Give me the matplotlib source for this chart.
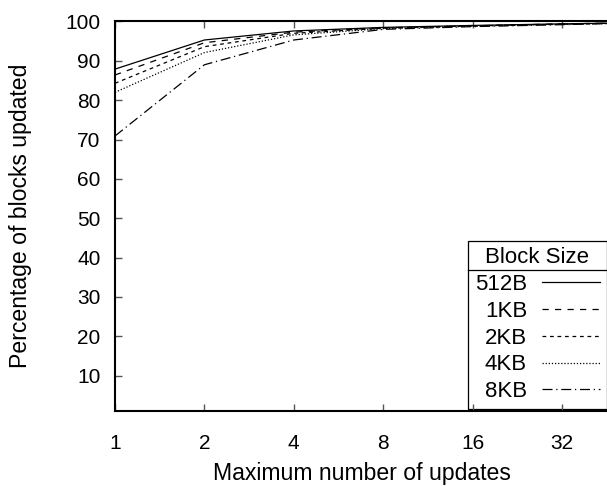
import matplotlib
matplotlib.use('Agg')
import matplotlib.pyplot as plt
from matplotlib.lines import Line2D

plt.rcParams['font.family'] = ['Liberation Sans', 'DejaVu Sans']

updates = [1, 2, 4, 8, 16, 32, 48]
labels = ['512B', '1KB', '2KB', '4KB', '8KB']
pct_512b = [87.9, 95.3, 97.6, 98.5, 99.0, 99.4, 99.6]
pct_1kb = [86.4, 94.6, 97.3, 98.4, 98.9, 99.4, 99.6]
pct_2kb = [84.3, 93.6, 97.0, 98.3, 98.9, 99.3, 99.6]
pct_4kb = [82.0, 92.1, 96.6, 98.2, 98.8, 99.3, 99.5]
pct_8kb = [70.9, 89.0, 95.3, 98.0, 98.7, 99.2, 99.5]
series = [pct_512b, pct_1kb, pct_2kb, pct_4kb, pct_8kb]
styles = ['-', (0, (5, 5)), (0, (3, 3)), (0, (1, 1.5)), (0, (8, 3, 1, 3))]

W, H = 607, 486
fig = plt.figure(figsize=(W / 100, H / 100), dpi=100)
ax = fig.add_axes([115 / W, (H - 411) / H, 1 - 115 / W + 0.003, 389.5 / H])

for vals, lab, ls in zip(series, labels, styles):
    ax.plot(updates, vals, color='black', linestyle=ls, linewidth=0.9, label=lab)

ax.set_xscale('log', base=2)
ax.set_xlim(1, 46)
ax.set_ylim(1, 100)
ax.set_xticks([1, 2, 4, 8, 16, 32])
ax.set_xticklabels(['1', '2', '4', '8', '16', '32'])
ax.minorticks_off()
ax.set_yticks(range(10, 101, 10))
ax.tick_params(direction='in', length=5, width=1, color='#555555',
               labelsize=15, top=True)
ax.tick_params(axis='x', pad=16.5)
ax.tick_params(axis='y', pad=10.5)
for s in ['left', 'bottom', 'top']:
    ax.spines[s].set_linewidth(1.5)
ax.spines['right'].set_visible(False)

# baseline kept a few px above the bottom so descenders fit
ax.set_xlabel('Maximum number of updates', fontsize=16.6, va='baseline')
ax.xaxis.set_label_coords(0.5, -(480 - 411) / 389.5)
ax.set_ylabel('Percentage of blocks updated', fontsize=16.6, labelpad=24)

handles = [Line2D([], [], color='black', linestyle=ls, linewidth=0.9) for ls in styles]
leg = ax.legend(handles, labels, title='Block Size', loc='lower right',
                markerfirst=False, fancybox=False, edgecolor='black',
                framealpha=1, fontsize=16, title_fontsize=16,
                borderaxespad=0.1, handlelength=2.6, labelspacing=0.26,
                handletextpad=0.68, borderpad=0.3)
leg.get_frame().set_linewidth(0.9)
leg.set_zorder(1)
for t in leg.get_texts():
    t.set_ha('right')

fig.canvas.draw()
lb = leg.get_window_extent()
tb = leg.get_title().get_window_extent()
ysep = tb.y0 - 2
inv = fig.transFigure.inverted()
x0, y0 = inv.transform((lb.x0, ysep))
x1, _ = inv.transform((lb.x1, ysep))
fig.add_artist(Line2D([x0, x1], [y0, y0], color='black', linewidth=0.9,
                      transform=fig.transFigure))

fig.savefig('out.png', dpi=100)
